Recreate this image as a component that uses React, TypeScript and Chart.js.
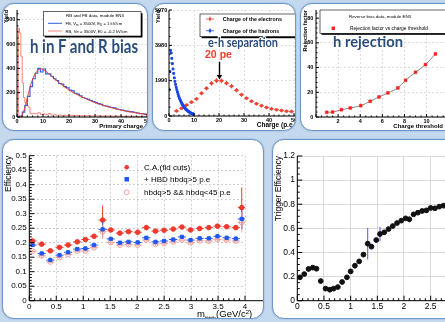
import React, { useEffect, useRef } from "react";
import { Chart, registerables } from "chart.js";

Chart.register(...registerables);

const FONT = "'Liberation Sans', Arial, Helvetica, sans-serif";
const BIG_FONT = "Lato, 'Open Sans', sans-serif";
Chart.defaults.font.family = FONT;

// ================= DATA =================
// Panel 1: h in F and R bias (primary charge spectra)
const fbCharge = [0,1,2,3,4,5,6,7,8,9,10,11,12,13,14,15,16,17,18,19,20,21,22,23,24,25,26,27,28,29,30,31,32,33,34,35,36,37,38,39,40,41,42,43,44,45,46,47,48,49,50];
const fbYield = [0,8,40,95,170,250,315,360,400,370,395,355,355,335,315,300,275,270,250,240,222,215,195,188,175,160,152,145,136,128,118,110,104,92,90,84,78,75,66,62,57,52,48,44,43,37,33,28,27,24,21];
const rbCharge = [0,0.5,1,1.5,2,2.5,3,3.5,4,4.5,5,5.5,6,7,8,9,10,11,12,13,14,15,16,17,18,19,20,22,24,26,28,30,32,34,36,38,40,42,44,46,48,50];
const rbYield = [0,730,690,500,280,160,120,100,90,80,30,25,30,25,35,20,25,20,28,15,18,14,16,12,15,12,13,12,10,11,9,10,8,9,7,8,6,7,6,5,6,5];
const fitCharge = [1.5,2,3,4,5,6,7,8,9,10,12,14,16,18,20,22,24,26,28,30,32,34,36,38,40,42,44,46,48,50];
const fitYield = [0,15,75,160,245,310,356,385,396,392,360,322,285,252,222,197,175,155,135,118,103,90,78,67,57,48,40,33,27,21];

// Panel 2: e-h separation
const elecCharge = [3,5,7,9,11,13,15,17,19,21,23,25,27,29,31,33,35,37,39,41,43,45,47,49];
const elecYield = [280,430,620,780,960,1280,1560,1840,1990,1980,1850,1680,1450,1200,1000,830,690,580,480,400,350,310,270,250];
const elecErr = [60,70,80,90,100,110,120,130,140,140,130,130,120,110,100,90,90,80,70,70,60,60,60,50];
const hadCharge = [0.125,0.375,0.625,0.875,1.125,1.375,1.625,1.875,2.125,2.375,2.625,2.875,3.125,3.375,3.625,3.875,4.125,4.375,4.625,4.875,5.125,5.375,5.625,5.875,6.125,6.375,6.625,6.875,7.125,7.375,7.625,7.875,8.125,8.375,8.625,8.875,9.125,9.375,9.625,9.875];
const hadYield = [1480,2500,3700,3550,3250,2950,2650,2400,2150,1950,1780,1620,1480,1350,1230,1120,1020,930,850,780,710,650,590,540,490,445,400,365,330,300,270,245,220,195,175,155,140,125,110,95];

// Panel 3: h rejection
const thrCharge = [0.97,1.5,2.3,3.1,4.05,4.9,5.7,6.5,7.4,8.1,9.0,9.9,10.8];
const rejFactor = [3.8,4.0,5.9,7.3,9.2,12.7,16.2,19.5,23.5,29.7,36.2,42.4,51.0];

// Panel 4: efficiency vs mass
const massCenters = [0.06,0.23,0.39,0.56,0.72,0.89,1.04,1.2,1.36,1.51,1.68,1.84,2.01,2.17,2.34,2.5,2.67,2.83,2.99,3.16,3.33,3.49,3.66,3.83,3.94];
const effCA = [0.206,0.195,0.172,0.184,0.192,0.203,0.211,0.222,0.278,0.244,0.233,0.238,0.236,0.252,0.240,0.243,0.247,0.254,0.244,0.249,0.252,0.257,0.255,0.252,0.321];
const effHBD = [0.192,0.163,0.140,0.157,0.167,0.178,0.180,0.192,0.246,0.213,0.200,0.203,0.201,0.217,0.203,0.206,0.211,0.220,0.209,0.215,0.215,0.222,0.217,0.214,0.282];
const effHBD45 = [0.171,0.155,0.134,0.149,0.160,0.171,0.172,0.183,0.238,0.201,0.192,0.194,0.192,0.209,0.195,0.198,0.203,0.209,0.200,0.207,0.206,0.211,0.209,0.206,0.270];
const errCA = [0.004,0.004,0.004,0.004,0.004,0.004,0.005,0.006,0.05,0.006,0.005,0.005,0.005,0.006,0.006,0.006,0.006,0.006,0.006,0.006,0.006,0.007,0.007,0.008,0.07];
const errHBD = [0.004,0.004,0.004,0.004,0.004,0.004,0.005,0.006,0.025,0.006,0.005,0.005,0.005,0.006,0.006,0.006,0.006,0.006,0.006,0.006,0.006,0.007,0.007,0.008,0.035];
const errHBD45 = [0.004,0.004,0.004,0.004,0.004,0.004,0.005,0.006,0.025,0.006,0.005,0.005,0.005,0.006,0.006,0.006,0.006,0.006,0.006,0.006,0.006,0.007,0.007,0.008,0.035];
const massHalfBin = 0.075;

// Panel 5: trigger efficiency
const trigMass = [0.05,0.13,0.21,0.29,0.36,0.44,0.53,0.61,0.68,0.76,0.84,0.93,1.0,1.08,1.16,1.24,1.32,1.39,1.48,1.55,1.63,1.71,1.79,1.87,1.95,2.03,2.1,2.18,2.26,2.34,2.42,2.5,2.58,2.66,2.74];
const trigEff = [0.194,0.221,0.263,0.274,0.265,0.163,0.100,0.091,0.100,0.113,0.155,0.194,0.243,0.290,0.326,0.382,0.473,0.448,0.503,0.553,0.567,0.594,0.619,0.644,0.664,0.683,0.675,0.716,0.730,0.744,0.749,0.769,0.766,0.780,0.788];
const trigErr = [0.012,0.012,0.012,0.012,0.012,0.01,0.008,0.008,0.008,0.008,0.01,0.01,0.01,0.012,0.015,0.02,0.13,0.02,0.02,0.06,0.015,0.012,0.012,0.012,0.012,0.012,0.025,0.012,0.01,0.01,0.01,0.01,0.015,0.01,0.01];

// ================= HELPERS =================
const pts = (xs: number[], ys: number[]) => xs.map((x, i) => ({ x, y: ys[i] }));
const fmt = (v: number) => String(+Number(v).toFixed(3));

const errorBarsPlugin = {
  id: "errorBars",
  beforeDatasetsDraw(chart: any) {
    const { ctx, chartArea: a } = chart;
    const xs = chart.scales.x, ys = chart.scales.y;
    ctx.save();
    ctx.beginPath();
    ctx.rect(a.left, a.top, a.right - a.left, a.bottom - a.top);
    ctx.clip();
    chart.data.datasets.forEach((ds: any) => {
      if (ds.errX === undefined && ds.errY === undefined) return;
      ctx.strokeStyle = ds.errColor || ds.borderColor;
      ctx.lineWidth = ds.errWidth || 1;
      ctx.beginPath();
      ds.data.forEach((p: any, i: number) => {
        const px = xs.getPixelForValue(p.x), py = ys.getPixelForValue(p.y);
        if (ds.errX !== undefined) {
          const e = Array.isArray(ds.errX) ? ds.errX[i] : ds.errX;
          ctx.moveTo(xs.getPixelForValue(p.x - e), py);
          ctx.lineTo(xs.getPixelForValue(p.x + e), py);
        }
        if (ds.errY !== undefined) {
          const e = Array.isArray(ds.errY) ? ds.errY[i] : ds.errY;
          ctx.moveTo(px, ys.getPixelForValue(p.y - e));
          ctx.lineTo(px, ys.getPixelForValue(p.y + e));
        }
      });
      ctx.stroke();
    });
    ctx.restore();
  },
};

const rootFramePlugin = {
  id: "rootFrame",
  afterDraw(chart: any, _args: any, opts: any) {
    const { ctx, chartArea: a } = chart;
    const xs = chart.scales.x, ys = chart.scales.y;
    ctx.save();
    ctx.strokeStyle = "#000";
    ctx.lineWidth = opts.lw || 1;
    ctx.beginPath();
    ctx.moveTo(a.left, a.top);
    ctx.lineTo(a.left, a.bottom);
    ctx.lineTo(a.right + 20, a.bottom);
    const ticks = (scale: any, horiz: boolean, n: number) => {
      const vals = scale.ticks.map((t: any) => t.value);
      if (vals.length < 2) return;
      const step = vals[1] - vals[0];
      const ms = step / n;
      const k0 = Math.ceil(scale.min / ms - 1e-6), k1 = Math.floor(scale.max / ms + 1e-6);
      for (let k = k0; k <= k1; k++) {
        const v = k * ms;
        const major = k % n === 0;
        const len = major ? opts.major : opts.minor;
        const p = scale.getPixelForValue(v);
        if (horiz) { ctx.moveTo(p, a.bottom); ctx.lineTo(p, a.bottom - len); }
        else { ctx.moveTo(a.left, p); ctx.lineTo(a.left + len, p); }
      }
    };
    ticks(xs, true, opts.xn);
    ticks(ys, false, opts.yn);
    ctx.stroke();
    ctx.restore();
  },
};

type Geo = { cl: number; ct: number; cw: number; ch: number; L: number; T: number; R: number; B: number };
type AxisSpec = {
  min: number; max: number; step: number; size: number; bold?: boolean; pad: number;
  title?: string; titleSize?: number; titleBold?: boolean; titlePad?: number; skipZero?: boolean;
};

function buildConfig(g: Geo, xa: AxisSpec, ya: AxisSpec, grid: { color: string; dash: number[]; width: number },
  frame: { xn: number; yn: number; major: number; minor: number }, datasets: any[]) {
  const yW = g.L - g.cl, xH = g.ct + g.ch - g.B, pT = g.T - g.ct, pR = g.cl + g.cw - g.R;
  const axis = (a: AxisSpec, horiz: boolean) => ({
    type: "linear",
    position: horiz ? "bottom" : "left",
    min: a.min, max: a.max,
    afterFit: (s: any) => { if (horiz) s.height = xH; else s.width = yW; },
    ticks: {
      stepSize: a.step, includeBounds: false, autoSkip: false, maxRotation: 0, minRotation: 0,
      padding: a.pad, color: "#000",
      font: { family: FONT, size: a.size, weight: a.bold ? "bold" : "normal", lineHeight: 1.2 },
      callback: (v: number) => (a.skipZero && Math.abs(v) < 1e-9 ? "" : fmt(v)),
    },
    grid: { color: grid.color, lineWidth: grid.width, drawTicks: false },
    border: { display: false, dash: grid.dash },
    title: a.title
      ? { display: true, text: a.title, align: "end", color: "#000",
          padding: { top: a.titlePad ?? 0, bottom: a.titlePad ?? 0 },
          font: { family: FONT, size: a.titleSize, weight: a.titleBold ? "bold" : "normal", lineHeight: 1.2 } }
      : { display: false },
  });
  return {
    type: "line",
    data: { datasets },
    options: {
      animation: false, responsive: false, maintainAspectRatio: false, devicePixelRatio: 1,
      layout: { autoPadding: false, padding: { top: pT, right: pR, left: 0, bottom: 0 } },
      plugins: { legend: { display: false }, tooltip: { enabled: false }, rootFrame: frame },
      scales: { x: axis(xa, true), y: axis(ya, false) },
    },
    plugins: [errorBarsPlugin, rootFramePlugin],
  };
}

// ================= GEOMETRY =================
type PR = { left: number; top: number; width: number; height: number };
const BW = 1.5;
const P1: PR = { left: 2, top: 3, width: 146, height: 128 };
const P2: PR = { left: 151.5, top: 3, width: 144.5, height: 128 };
const P3: PR = { left: 300, top: 3, width: 170, height: 128 };
const P4: PR = { left: 2, top: 139, width: 262, height: 180 };
const P5: PR = { left: 272, top: 139, width: 200, height: 180 };

const G1: Geo = { cl: 3, ct: 4, cw: 170, ch: 126, L: 17, T: 10, R: 152, B: 117 };
const G2: Geo = { cl: 153, ct: 4, cw: 170, ch: 126, L: 169, T: 10, R: 296.5, B: 116 };
const G3: Geo = { cl: 301, ct: 4, cw: 170, ch: 126, L: 316, T: 10, R: 452, B: 117 };
const G4: Geo = { cl: 3, ct: 140, cw: 260, ch: 178, L: 29.3, T: 155.7, R: 245, B: 300.7 };
const G5: Geo = { cl: 273, ct: 140, cw: 200, ch: 178, L: 297.3, T: 156, R: 460, B: 300.7 };

const dashedGrid = { color: "#c9c9c9", dash: [2, 2], width: 0.6 };

const config1 = () => buildConfig(G1,
  { min: 0, max: 51.9, step: 10, size: 5.5, bold: true, pad: 1.4, title: "Primary charge (e)", titleSize: 6, titleBold: true, titlePad: 0 },
  { min: 0, max: 880, step: 200, size: 5.5, bold: true, pad: 1.6, title: "Yield", titleSize: 5.5, titleBold: true, titlePad: 0 },
  dashedGrid, { xn: 5, yn: 4, major: 3, minor: 1.5 },
  [
    { data: pts(fitCharge, fitYield), borderColor: "#e2412f", borderWidth: 1, pointRadius: 0, cubicInterpolationMode: "monotone", order: 0 },
    { data: pts(fbCharge, fbYield), borderColor: "#2f5de8", borderWidth: 1.1, pointRadius: 0, stepped: true, order: 1 },
    { data: pts(rbCharge, rbYield), borderColor: "#f3857a", borderWidth: 1, pointRadius: 0, stepped: true, order: 2 },
  ]);

const config2 = () => buildConfig(G2,
  { min: 0, max: 51, step: 10, size: 5.5, bold: true, pad: 0.8, title: "Charge (p.e.)", titleSize: 6.5, titleBold: true, titlePad: 1.1 },
  { min: 0, max: 5970, step: 2000, size: 5.5, bold: true, pad: 1.8, title: "Yield", titleSize: 5.5, titleBold: true, titlePad: 2 },
  dashedGrid, { xn: 5, yn: 4, major: 3, minor: 1.5 },
  [
    { data: pts(elecCharge, elecYield), showLine: false, pointRadius: 1.3, pointBackgroundColor: "#f0402f", pointBorderColor: "#f0402f", borderColor: "#f0402f", errX: 1, errY: elecErr, errWidth: 0.8, order: 1 },
    { data: pts(hadCharge, hadYield), showLine: false, pointStyle: "rect", pointRadius: 1.3, pointBackgroundColor: "#1846e6", pointBorderColor: "#1846e6", borderColor: "#1846e6", errX: 0.125, errY: 60, errWidth: 0.8, order: 0 },
  ]);

const config3 = () => buildConfig(G3,
  { min: 0, max: 12.3, step: 2, size: 5.5, bold: true, pad: 1.4, title: "Charge threshold (e)", titleSize: 6, titleBold: true, titlePad: 0, skipZero: true },
  { min: 0, max: 86.6, step: 20, size: 5.5, bold: true, pad: 2.6, title: "Rejection factor", titleSize: 5.5, titleBold: true, titlePad: 0.7 },
  dashedGrid, { xn: 4, yn: 5, major: 3, minor: 1.5 },
  [
    { data: pts(thrCharge, rejFactor), showLine: true, borderColor: "#555", borderWidth: 0.7, tension: 0.35, pointStyle: "rect", pointRadius: 2, pointBackgroundColor: "#ff1f1f", pointBorderColor: "#ff1f1f", pointBorderWidth: 0.5 },
  ]);

const config4 = () => buildConfig(G4,
  { min: 0, max: 4, step: 0.5, size: 8, pad: 1.2 },
  { min: 0, max: 0.5, step: 0.05, size: 8, pad: 2.6, title: "Efficiency", titleSize: 8.5, titlePad: 0.2 },
  { color: "#bdbdbd", dash: [2, 2], width: 0.7 }, { xn: 5, yn: 5, major: 5, minor: 2.5 },
  [
    { data: pts(massCenters, effCA), showLine: false, pointRadius: 2.3, pointBackgroundColor: "#ee3a2e", pointBorderColor: "#ee3a2e", borderColor: "#ee3a2e", errX: massHalfBin, errY: errCA, errWidth: 1, order: 0 },
    { data: pts(massCenters, effHBD), showLine: false, pointStyle: "rect", pointRadius: 2.3, pointBackgroundColor: "#1f57f2", pointBorderColor: "#1f57f2", borderColor: "#1f57f2", errX: massHalfBin, errY: errHBD, errWidth: 1, order: 1 },
    { data: pts(massCenters, effHBD45), showLine: false, pointRadius: 2.5, pointBackgroundColor: "rgba(255,255,255,0)", pointBorderColor: "#f3a19a", pointBorderWidth: 1, borderColor: "#f3a19a", errX: massHalfBin, errY: errHBD45, errWidth: 1, order: 2 },
  ]);

const config5 = () => buildConfig(G5,
  { min: 0, max: 3.05, step: 0.5, size: 8.5, pad: 0.9 },
  { min: 0, max: 1.2, step: 0.2, size: 8.5, pad: 2.3, title: "Trigger Efficiency", titleSize: 8.5, titlePad: 0.2 },
  { color: "#d2d2d2", dash: [], width: 0.8 }, { xn: 5, yn: 4, major: 5, minor: 2.5 },
  [
    { data: pts(trigMass, trigEff), showLine: false, pointRadius: 2.4, pointBackgroundColor: "#111", pointBorderColor: "#111", borderColor: "#111", errY: trigErr, errColor: "#5757d0", errWidth: 1 },
  ]);

// ================= COMPONENTS =================
function ChartBox({ panel, geo, make }: { panel: PR; geo: Geo; make: () => any }) {
  const ref = useRef<HTMLCanvasElement>(null);
  useEffect(() => {
    const chart = new Chart(ref.current as HTMLCanvasElement, make());
    return () => chart.destroy();
  }, []);
  return (
    <canvas ref={ref} width={geo.cw} height={geo.ch}
      style={{ position: "absolute", left: geo.cl - panel.left - BW, top: geo.ct - panel.top - BW, width: geo.cw, height: geo.ch }} />
  );
}

function Panel({ rect, children }: { rect: PR; children?: any }) {
  return (
    <div style={{ position: "absolute", left: rect.left, top: rect.top, width: rect.width, height: rect.height, boxSizing: "border-box",
      border: `${BW}px solid #6d97cb`, borderRadius: 12, background: "#fff", overflow: "hidden", boxShadow: "0 0 1.5px rgba(70,110,170,0.6)" }}>
      {children}
    </div>
  );
}

function Overlay({ panel, children }: { panel: PR; children?: any }) {
  return (
    <svg width={445} height={322} style={{ position: "absolute", left: -panel.left - BW, top: -panel.top - BW, pointerEvents: "none" }} fontFamily={FONT}>
      {children}
    </svg>
  );
}

const bigText = { fontFamily: BIG_FONT, fontWeight: 700, fill: "#2b4d7c", stroke: "#ffffff", strokeWidth: 2.2, paintOrder: "stroke", lengthAdjust: "spacingAndGlyphs" } as any;

export default function App() {
  return (
    <div style={{ position: "fixed", left: 0, top: 0, width: 445, height: 322, overflow: "hidden", background: "#c5d9ee" }}>
      <Panel rect={P1}>
        <ChartBox panel={P1} geo={G1} make={config1} />
        <Overlay panel={P1}>
          <rect x={44.8} y={13.2} width={97.7} height={24.3} fill="#000" />
          <rect x={43.3} y={11.7} width={97.7} height={24.3} fill="#fff" stroke="#000" strokeWidth={0.6} />
          <text x={95} y={17.4} fontSize={4.4} textAnchor="middle">RB and FB data, module EN3</text>
          <line x1={48} x2={62} y1={23.3} y2={23.3} stroke="#2f5de8" strokeWidth={1} />
          <text x={65.5} y={24.8} fontSize={4.2}>FB, V<tspan fontSize={3} dy={0.8}>m</tspan><tspan dy={-0.8}> = 3500V, E</tspan><tspan fontSize={3} dy={0.8}>D</tspan><tspan dy={-0.8}> = 1 kV/cm</tspan></text>
          <line x1={48} x2={62} y1={31} y2={31} stroke="#f3857a" strokeWidth={1} />
          <text x={65.5} y={32.5} fontSize={4.2}>RB, V<tspan fontSize={3} dy={0.8}>m</tspan><tspan dy={-0.8}> = 3500V, E</tspan><tspan fontSize={3} dy={0.8}>D</tspan><tspan dy={-0.8}> = -0.2 kV/cm</tspan></text>
          <text x={30} y={53} fontSize={19} textLength={108} {...bigText}>h in F and R bias</text>
        </Overlay>
      </Panel>

      <Panel rect={P2}>
        <ChartBox panel={P2} geo={G2} make={config2} />
        <Overlay panel={P2}>
          <rect x={201.5} y={15.5} width={100} height={22.7} fill="#000" />
          <rect x={200} y={14} width={100} height={22.7} fill="#fff" stroke="#000" strokeWidth={0.6} />
          <line x1={206} x2={214} y1={19} y2={19} stroke="#f0402f" strokeWidth={0.8} />
          <line x1={210} x2={210} y1={16.5} y2={21.5} stroke="#f0402f" strokeWidth={0.8} />
          <circle cx={210} cy={19} r={1.2} fill="#f0402f" />
          <text x={222.7} y={20.9} fontSize={5.3} fontWeight="bold">Charge of the electrons</text>
          <line x1={206} x2={214} y1={30.7} y2={30.7} stroke="#1846e6" strokeWidth={0.8} />
          <line x1={210} x2={210} y1={28.2} y2={33.2} stroke="#1846e6" strokeWidth={0.8} />
          <rect x={208.8} y={29.5} width={2.4} height={2.4} fill="#1846e6" />
          <text x={222.7} y={32.6} fontSize={5.3} fontWeight="bold">Charge of the hadrons</text>
          <text x={208} y={46.7} fontSize={13.5} textLength={70} {...bigText}>e-h separation</text>
          <text x={205} y={58.3} fontSize={11} fontWeight="bold" fill="#ff3b2a" stroke="#fff" strokeWidth={1.5} style={{ paintOrder: "stroke" } as any} textLength={27} lengthAdjust="spacingAndGlyphs">20 pe</text>
          <line x1={219.5} x2={219.5} y1={61.7} y2={76} stroke="#000" strokeWidth={1.4} />
          <polygon points="216.8,75 222.2,75 219.5,79.5" fill="#000" />
        </Overlay>
      </Panel>

      <Panel rect={P3}>
        <ChartBox panel={P3} geo={G3} make={config3} />
        <Overlay panel={P3}>
          <rect x={321.5} y={11.5} width={150} height={23.3} fill="#000" />
          <rect x={320} y={10} width={150} height={23.3} fill="#fff" stroke="#000" strokeWidth={0.6} />
          <text x={380} y={17.6} fontSize={4.4} textAnchor="middle">Reverse bias data, module EN3</text>
          <rect x={331.6} y={26.6} width={3.4} height={3.4} fill="#ff1f1f" />
          <text x={350} y={30} fontSize={4.9}>Rejection factor vs charge threshold</text>
          <text x={333} y={46.7} fontSize={16} textLength={70} {...bigText}>h rejection</text>
        </Overlay>
      </Panel>

      <Panel rect={P4}>
        <ChartBox panel={P4} geo={G4} make={config4} />
        <Overlay panel={P4}>
          <circle cx={126.7} cy={167.3} r={2.3} fill="#ee3a2e" />
          <text x={144} y={170.2} fontSize={8}>C.A.(fid cuts)</text>
          <rect x={124.5} y={177} width={4.5} height={4.5} fill="#1f57f2" />
          <text x={144} y={182.2} fontSize={8}>+ HBD hbdq&gt;5 p.e</text>
          <circle cx={126.7} cy={192.3} r={2.4} fill="none" stroke="#f3a19a" strokeWidth={1} />
          <text x={144} y={195.2} fontSize={8}>hbdq&gt;5 &amp;&amp; hbdq&lt;45 p.e</text>
          <text x={197} y={317} fontSize={9.5}>m<tspan fontSize={5.5} dy={1.8}>e+e-</tspan><tspan fontSize={9.5} dy={-1.8}>(GeV/c</tspan><tspan fontSize={6} dy={-3.5}>2</tspan><tspan fontSize={9.5} dy={3.5}>)</tspan></text>
        </Overlay>
      </Panel>

      <Panel rect={P5}>
        <ChartBox panel={P5} geo={G5} make={config5} />
      </Panel>
    </div>
  );
}
